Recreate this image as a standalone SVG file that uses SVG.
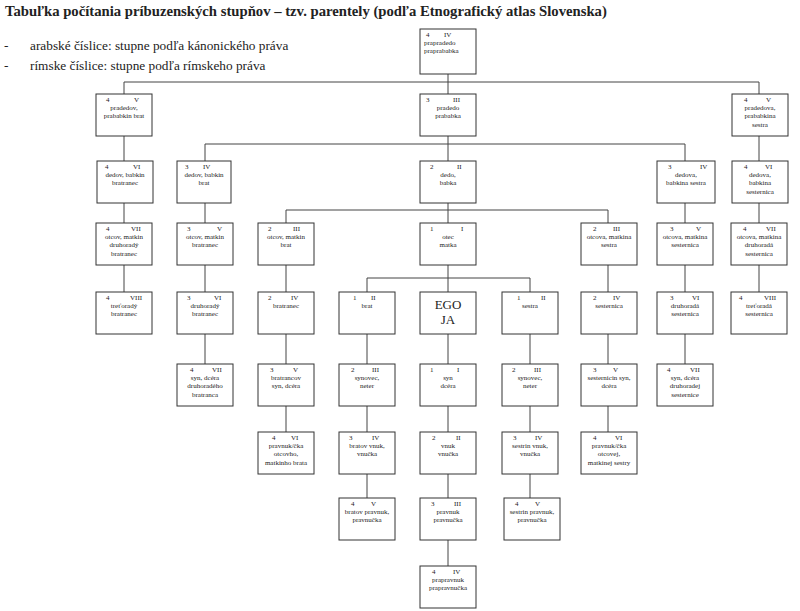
<svg xmlns="http://www.w3.org/2000/svg" width="800" height="611" viewBox="0 0 800 611" font-family="'Liberation Serif','Times New Roman','DejaVu Serif',serif">
<style>
.b{fill:#fff;stroke:#333;stroke-width:1}
.c{fill:none;stroke:#444;stroke-width:1}
text{font-family:'Liberation Serif','Times New Roman','DejaVu Serif',serif;fill:#222}
.t{font-size:7px;text-anchor:middle}
.n{font-size:7px}
.h{font-size:14.7px;font-weight:bold}
.l{font-size:13.3px}
.e{font-size:13px;text-anchor:middle}
</style>
<rect width="800" height="611" fill="#fff"/>
<text class="h" x="5" y="16">Tabuľka počítania príbuzenských stupňov – tzv. parentely (podľa Etnografický atlas Slovenska)</text>
<text class="l" x="4" y="50">-</text><text class="l" x="30" y="50">arabské číslice: stupne podľa kánonického práva</text>
<text class="l" x="4" y="70">-</text><text class="l" x="30" y="70">rímske číslice: stupne podľa rímskeho práva</text>
<g id="connectors" class="c">
<path d="M124 82H759M205 144H685M286 210H608M367 278H530"/>
<path d="M448 74V566M124 82V292M205 144V364M286 210V432M367 278V498M530 278V498M608 210V432M685 144V364M759 82V292"/>
</g>
<g id="n0"><rect class="b" x="420" y="29" width="56" height="45"/><text class="n" x="426" y="37">4</text><text class="n" x="444" y="37">IV</text><text class="n" x="424" y="45">prapradedo</text><text class="n" x="424" y="53">praprababka</text></g>
<g id="n1a"><rect class="b" x="96" y="94" width="56" height="42"/><text class="n" x="106" y="102">4</text><text class="n" x="134" y="102">V</text><text class="t" x="124" y="110">pradedov,</text><text class="t" x="124" y="118">prababkin brat</text></g>
<g id="n1b"><rect class="b" x="420" y="94" width="56" height="42"/><text class="n" x="426" y="102">3</text><text class="n" x="453" y="102">III</text><text class="t" x="448" y="110">pradedo</text><text class="t" x="448" y="118">prababka</text></g>
<g id="n1c"><rect class="b" x="732" y="94" width="56" height="42"/><text class="n" x="744" y="102">4</text><text class="n" x="766" y="102">V</text><text class="t" x="760" y="110">pradedova,</text><text class="t" x="760" y="118">prababkina</text><text class="t" x="760" y="127">sestra</text></g>
<g id="n2a"><rect class="b" x="97" y="161" width="56" height="42"/><text class="n" x="105" y="169">4</text><text class="n" x="133" y="169">VI</text><text class="t" x="125" y="177">dedov, babkin</text><text class="t" x="125" y="185">bratranec</text></g>
<g id="n2b"><rect class="b" x="177" y="161" width="54" height="42"/><text class="n" x="185" y="169">3</text><text class="n" x="203" y="169">IV</text><text class="t" x="204" y="177">dedov, babkin</text><text class="t" x="204" y="185">brat</text></g>
<g id="n2c"><rect class="b" x="420" y="161" width="56" height="42"/><text class="n" x="430" y="169">2</text><text class="n" x="457" y="169">II</text><text class="t" x="448" y="177">dedo,</text><text class="t" x="448" y="185">babka</text></g>
<g id="n2d"><rect class="b" x="657" y="161" width="58" height="42"/><text class="n" x="668" y="169">3</text><text class="n" x="700" y="169">IV</text><text class="t" x="686" y="177">dedova,</text><text class="t" x="686" y="185">babkina sestra</text></g>
<g id="n2e"><rect class="b" x="732" y="161" width="56" height="42"/><text class="n" x="744" y="169">4</text><text class="n" x="765" y="169">VI</text><text class="t" x="760" y="177">dedova,</text><text class="t" x="760" y="185">babkina</text><text class="t" x="760" y="194">sesternica</text></g>
<g id="n3a"><rect class="b" x="96" y="223" width="56" height="42"/><text class="n" x="106" y="231">4</text><text class="n" x="131" y="231">VII</text><text class="t" x="124" y="239">otcov, matkin</text><text class="t" x="124" y="247">druhoradý</text><text class="t" x="124" y="256">bratranec</text></g>
<g id="n3b"><rect class="b" x="177" y="223" width="56" height="42"/><text class="n" x="187" y="231">3</text><text class="n" x="217" y="231">V</text><text class="t" x="205" y="239">otcov, matkin</text><text class="t" x="205" y="247">bratranec</text></g>
<g id="n3c"><rect class="b" x="258" y="223" width="56" height="42"/><text class="n" x="268" y="231">2</text><text class="n" x="293" y="231">III</text><text class="t" x="286" y="239">otcov, matkin</text><text class="t" x="286" y="247">brat</text></g>
<g id="n3d"><rect class="b" x="420" y="223" width="56" height="42"/><text class="n" x="430" y="231">1</text><text class="n" x="461" y="231">I</text><text class="t" x="448" y="239">otec</text><text class="t" x="448" y="247">matka</text></g>
<g id="n3e"><rect class="b" x="581" y="223" width="56" height="42"/><text class="n" x="593" y="231">2</text><text class="n" x="613" y="231">III</text><text class="t" x="609" y="239">otcova, matkina</text><text class="t" x="609" y="247">sestra</text></g>
<g id="n3f"><rect class="b" x="657" y="223" width="56" height="42"/><text class="n" x="670" y="231">3</text><text class="n" x="696" y="231">V</text><text class="t" x="685" y="239">otcova, matkina</text><text class="t" x="685" y="247">sesternica</text></g>
<g id="n3g"><rect class="b" x="731" y="223" width="56" height="42"/><text class="n" x="743" y="231">4</text><text class="n" x="766" y="231">VII</text><text class="t" x="759" y="239">otcova, matkina</text><text class="t" x="759" y="247">druhoradá</text><text class="t" x="759" y="256">sesternica</text></g>
<g id="n4a"><rect class="b" x="96" y="292" width="56" height="42"/><text class="n" x="106" y="300">4</text><text class="n" x="130" y="300">VIII</text><text class="t" x="124" y="308">treťoradý</text><text class="t" x="124" y="316">bratranec</text></g>
<g id="n4b"><rect class="b" x="177" y="292" width="56" height="42"/><text class="n" x="187" y="300">3</text><text class="n" x="214" y="300">VI</text><text class="t" x="205" y="308">druhoradý</text><text class="t" x="205" y="316">bratranec</text></g>
<g id="n4c"><rect class="b" x="258" y="292" width="56" height="42"/><text class="n" x="268" y="300">2</text><text class="n" x="291" y="300">IV</text><text class="t" x="286" y="308">bratranec</text></g>
<g id="n4d"><rect class="b" x="339" y="292" width="56" height="42"/><text class="n" x="353" y="300">1</text><text class="n" x="371" y="300">II</text><text class="t" x="367" y="308">brat</text></g>
<g id="n4e"><rect class="b" x="420" y="292" width="56" height="42"/><text class="e" x="448" y="309">EGO</text><text class="e" x="448" y="324">JA</text></g>
<g id="n4f"><rect class="b" x="502" y="292" width="56" height="42"/><text class="n" x="517" y="300">1</text><text class="n" x="541" y="300">II</text><text class="t" x="530" y="308">sestra</text></g>
<g id="n4g"><rect class="b" x="581" y="292" width="56" height="42"/><text class="n" x="593" y="300">2</text><text class="n" x="613" y="300">IV</text><text class="t" x="609" y="308">sesternica</text></g>
<g id="n4h"><rect class="b" x="657" y="292" width="56" height="42"/><text class="n" x="670" y="300">3</text><text class="n" x="692" y="300">VI</text><text class="t" x="685" y="308">druhoradá</text><text class="t" x="685" y="316">sesternica</text></g>
<g id="n4i"><rect class="b" x="731" y="292" width="56" height="42"/><text class="n" x="739" y="300">4</text><text class="n" x="764" y="300">VIII</text><text class="t" x="759" y="308">treťoradá</text><text class="t" x="759" y="316">sesternica</text></g>
<g id="n5a"><rect class="b" x="177" y="364" width="56" height="42"/><text class="n" x="190" y="372">4</text><text class="n" x="212" y="372">VII</text><text class="t" x="205" y="380">syn, dcéra</text><text class="t" x="205" y="388">druhoradého</text><text class="t" x="205" y="397">bratranca</text></g>
<g id="n5b"><rect class="b" x="258" y="364" width="56" height="42"/><text class="n" x="270" y="372">3</text><text class="n" x="293" y="372">V</text><text class="t" x="286" y="380">bratrancov</text><text class="t" x="286" y="388">syn, dcéra</text></g>
<g id="n5c"><rect class="b" x="339" y="364" width="56" height="42"/><text class="n" x="351" y="372">2</text><text class="n" x="372" y="372">III</text><text class="t" x="367" y="380">synovec,</text><text class="t" x="367" y="388">neter</text></g>
<g id="n5d"><rect class="b" x="420" y="364" width="56" height="42"/><text class="n" x="430" y="372">1</text><text class="n" x="457" y="372">I</text><text class="t" x="448" y="380">syn</text><text class="t" x="448" y="388">dcéra</text></g>
<g id="n5e"><rect class="b" x="502" y="364" width="56" height="42"/><text class="n" x="512" y="372">2</text><text class="n" x="534" y="372">III</text><text class="t" x="530" y="380">synovec,</text><text class="t" x="530" y="388">neter</text></g>
<g id="n5f"><rect class="b" x="581" y="364" width="56" height="42"/><text class="n" x="593" y="372">3</text><text class="n" x="613" y="372">V</text><text class="t" x="609" y="380">sesternicin syn,</text><text class="t" x="609" y="388">dcéra</text></g>
<g id="n5g"><rect class="b" x="657" y="364" width="56" height="42"/><text class="n" x="667" y="372">4</text><text class="n" x="690" y="372">VII</text><text class="t" x="685" y="380">syn, dcéra</text><text class="t" x="685" y="388">druhoradej</text><text class="t" x="685" y="397">sesternice</text></g>
<g id="n6a"><rect class="b" x="258" y="432" width="56" height="42"/><text class="n" x="272" y="440">4</text><text class="n" x="291" y="440">VI</text><text class="t" x="286" y="448">pravnuk/čka</text><text class="t" x="286" y="456">otcovho,</text><text class="t" x="286" y="465">matkinho brata</text></g>
<g id="n6b"><rect class="b" x="339" y="432" width="56" height="42"/><text class="n" x="349" y="440">3</text><text class="n" x="372" y="440">IV</text><text class="t" x="367" y="448">bratov vnuk,</text><text class="t" x="367" y="456">vnučka</text></g>
<g id="n6c"><rect class="b" x="420" y="432" width="56" height="42"/><text class="n" x="432" y="440">2</text><text class="n" x="456" y="440">II</text><text class="t" x="448" y="448">vnuk</text><text class="t" x="448" y="456">vnučka</text></g>
<g id="n6d"><rect class="b" x="502" y="432" width="56" height="42"/><text class="n" x="513" y="440">3</text><text class="n" x="535" y="440">IV</text><text class="t" x="530" y="448">sestrin vnuk,</text><text class="t" x="530" y="456">vnučka</text></g>
<g id="n6e"><rect class="b" x="581" y="432" width="56" height="42"/><text class="n" x="593" y="440">4</text><text class="n" x="615" y="440">VI</text><text class="t" x="609" y="448">pravnuk/čka</text><text class="t" x="609" y="456">otcovej,</text><text class="t" x="609" y="465">matkinej sestry</text></g>
<g id="n7a"><rect class="b" x="339" y="498" width="56" height="42"/><text class="n" x="351" y="506">4</text><text class="n" x="371" y="506">V</text><text class="t" x="367" y="514">bratov pravnuk,</text><text class="t" x="367" y="522">pravnučka</text></g>
<g id="n7b"><rect class="b" x="420" y="498" width="56" height="42"/><text class="n" x="431" y="506">3</text><text class="n" x="454" y="506">III</text><text class="t" x="448" y="514">pravnuk</text><text class="t" x="448" y="522">pravnučka</text></g>
<g id="n7c"><rect class="b" x="504" y="498" width="56" height="42"/><text class="n" x="515" y="506">4</text><text class="n" x="535" y="506">V</text><text class="t" x="532" y="514">sestrin pravnuk,</text><text class="t" x="532" y="522">pravnučka</text></g>
<g id="n8"><rect class="b" x="420" y="566" width="56" height="42"/><text class="n" x="432" y="574">4</text><text class="n" x="453" y="574">IV</text><text class="t" x="448" y="582">prapravnuk</text><text class="t" x="448" y="590">prapravnučka</text></g>
</svg>
